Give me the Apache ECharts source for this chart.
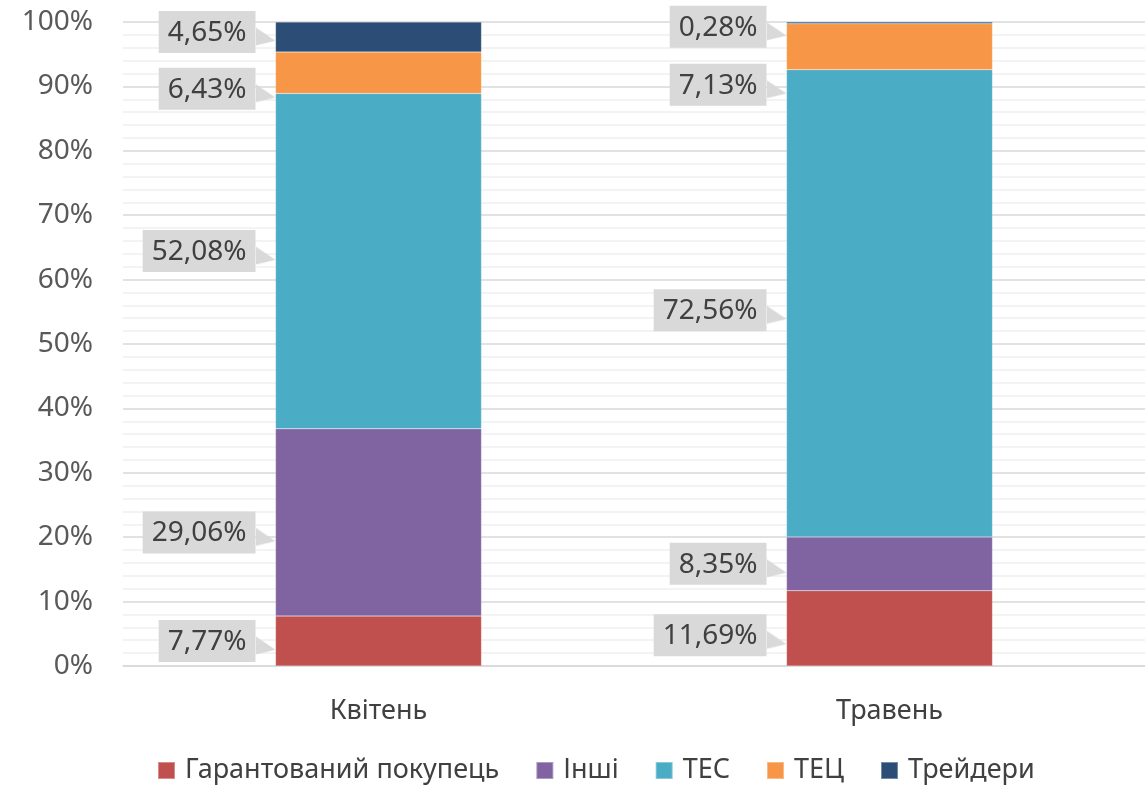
<!DOCTYPE html>
<html>
<head>
<meta charset="utf-8">
<script src="https://cdn.jsdelivr.net/npm/echarts@6/dist/echarts.min.js"></script>
<style>
  html, body { margin: 0; padding: 0; background: #fff; }
  #chart { width: 1145px; height: 789px; }
</style>
</head>
<body>
<div id="chart"></div>
<script>
const months = ["Квітень", "Травень"];
const seriesNames = ["Гарантований покупець", "Інші", "ТЕС", "ТЕЦ", "Трейдери"];
const guaranteedBuyer = [7.77, 11.69];
const others = [29.06, 8.35];
const tes = [52.08, 72.56];
const tec = [6.43, 7.13];
const traders = [4.65, 0.28];

const colors = ["#c0504d", "#8064a2", "#4bacc6", "#f79646", "#2c4d75"];
// vertical nudges of the callouts, per series / per month
const labelShift = [[0, 7], [10, 0], [-10, 7], [16, 38], [-5, 4]];

const font = "Noto Sans";
const values = [guaranteedBuyer, others, tes, tec, traders];

// small grey wedge that points from the callout box to the bar
function makeWedge(w, h) {
  const c = document.createElement("canvas");
  c.width = w;
  c.height = h;
  const ctx = c.getContext("2d");
  ctx.fillStyle = "#d9d9d9";
  ctx.beginPath();
  ctx.moveTo(0, h * 0.4);
  ctx.lineTo(w, h * 0.68);
  ctx.lineTo(0, h * 0.78);
  ctx.closePath();
  ctx.fill();
  return c;
}
const wedge = makeWedge(20, 48);

const chart = echarts.init(document.getElementById("chart"));
chart.setOption({
  color: colors,
  animation: false,
  textStyle: { fontFamily: font },
  grid: { left: 123, right: 0, top: 22, bottom: 123 },
  legend: {
    left: 152,
    bottom: 0,
    itemWidth: 17,
    itemHeight: 17,
    itemGap: 36,
    icon: "rect",
    textStyle: { fontSize: 27, color: "#404040", fontFamily: font, padding: [0, 0, 0, 5] },
    data: seriesNames
  },
  xAxis: {
    type: "category",
    data: months,
    axisLine: { lineStyle: { color: "#d9d9d9", width: 1.5 } },
    axisTick: { show: false },
    axisLabel: { fontSize: 27, color: "#404040", margin: 32 }
  },
  yAxis: {
    type: "value",
    min: 0,
    max: 100,
    interval: 10,
    axisLine: { show: false },
    axisTick: { show: false },
    axisLabel: { formatter: "{value}%", fontSize: 28, color: "#595959", margin: 30 },
    splitLine: { lineStyle: { color: "#d9d9d9", width: 1.5 } },
    minorTick: { show: false, splitNumber: 5 },
    minorSplitLine: { show: true, lineStyle: { color: "#f0f0f0", width: 1.5 } }
  },
  series: seriesNames.map((name, i) => ({
    name: name,
    type: "bar",
    stack: "total",
    barWidth: 206,
    itemStyle: { color: colors[i], borderColor: "rgba(255,255,255,0.35)", borderWidth: 0.5 },
    data: values[i].map((v, j) => ({
      value: v,
      label: { offset: [0, labelShift[i][j]] }
    })),
    label: {
      show: true,
      position: "left",
      distance: 0,
      formatter: (p) => "{box|" + p.value.toFixed(2).replace(".", ",") + "%}{tip|}",
      rich: {
        box: {
          fontSize: 28,
          fontFamily: font,
          color: "#404040",
          backgroundColor: "#d9d9d9",
          lineHeight: 34,
          padding: [8, 9, 6, 9]
        },
        tip: {
          width: 20,
          height: 48,
          backgroundColor: { image: wedge }
        }
      }
    }
  }))
});
</script>
</body>
</html>
